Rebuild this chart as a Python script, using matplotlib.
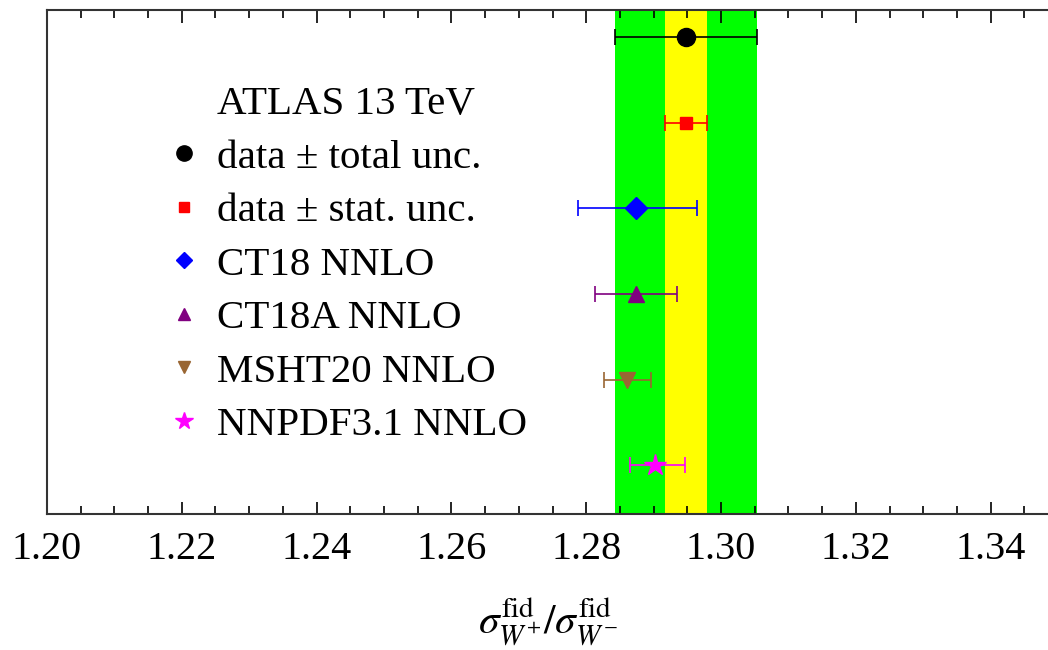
import numpy as np
import matplotlib.pyplot as plt
from matplotlib.lines import Line2D

plt.rcParams['font.family'] = ['Liberation Serif', 'DejaVu Serif']
plt.rcParams['mathtext.fontset'] = 'stix'

# measured ratio and uncertainties
data_val = 1.2948
data_tot = 0.0105
data_stat = 0.0031

# theory predictions: centre, lower error, upper error
names = ['CT18 NNLO', 'CT18A NNLO', 'MSHT20 NNLO', 'NNPDF3.1 NNLO']
pred = [1.2874, 1.2874, 1.2861, 1.2902]
err_lo = [0.0086, 0.0061, 0.0034, 0.0037]
err_hi = [0.0090, 0.0061, 0.0035, 0.0045]
ypos = [4, 3, 2, 1]
colors = ['#0000ff', '#800080', '#996633', '#ff00ff']
markers = ['D', '^', 'v', '*']
msizes = [11, 12, 12, 16]

fig = plt.figure(figsize=(10.48, 6.5), dpi=100)
ax = fig.add_axes([0.0448, 0.2092, 0.9552, 0.7754])

ax.axvspan(data_val - data_tot, data_val + data_tot, color='#00ff00', lw=0, zorder=0)
ax.axvspan(data_val - data_stat, data_val + data_stat, color='#ffff00', lw=0, zorder=0)

ax.errorbar([data_val], [6], xerr=[data_tot], fmt='o', color='black', ms=13,
            capsize=6, elinewidth=1.2, capthick=1.2)
ax.errorbar([data_val], [5], xerr=[data_stat], fmt='s', color='red', ms=9,
            capsize=6, elinewidth=1.2, capthick=1.2)
for i in range(len(names)):
    ax.errorbar([pred[i]], [ypos[i]], xerr=[[err_lo[i]], [err_hi[i]]],
                fmt=markers[i], color=colors[i], ms=msizes[i],
                capsize=6, elinewidth=1.2, capthick=1.2)

# legend: first entry is the title without a marker
handles = [Line2D([], [], ls='none'),
           Line2D([], [], ls='none', marker='o', color='black', ms=11),
           Line2D([], [], ls='none', marker='s', color='red', ms=7)]
for i in range(len(names)):
    handles.append(Line2D([], [], ls='none', marker=markers[i], color=colors[i],
                          ms=msizes[i] - 3))
labels = ['ATLAS 13 TeV', 'data ± total unc.', 'data ± stat. unc.'] + names
leg = ax.legend(handles, labels, loc='upper left',
                bbox_to_anchor=(0.097, 0.891), frameon=False, fontsize=29.5,
                handlelength=0.95, handletextpad=0.32,
                labelspacing=0.386, borderpad=0)

ax.set_xlim(1.20, 1.3485)
ax.set_ylim(0.43, 6.315)
ax.set_yticks([])
ax.spines['right'].set_visible(False)
for s in ['left', 'top', 'bottom']:
    ax.spines[s].set_linewidth(1.5)
    ax.spines[s].set_color('#333333')

ax.set_xticks(np.arange(1.20, 1.3401, 0.02))
ax.set_xticks(np.arange(1.20, 1.3486, 0.005), minor=True)
ax.xaxis.set_major_formatter(plt.FormatStrFormatter('%.2f'))
ax.tick_params(axis='x', which='both', direction='in', top=True, labelsize=29,
               pad=12, width=1.2)
ax.tick_params(axis='x', which='major', length=9)
ax.tick_params(axis='x', which='minor', length=6)

ax.set_xlabel(r'$\sigma^{\rm fid}_{W^{+}}/\sigma^{\rm fid}_{W^{-}}$', fontsize=30,
              labelpad=20)

fig.savefig('out.png', dpi=100)
